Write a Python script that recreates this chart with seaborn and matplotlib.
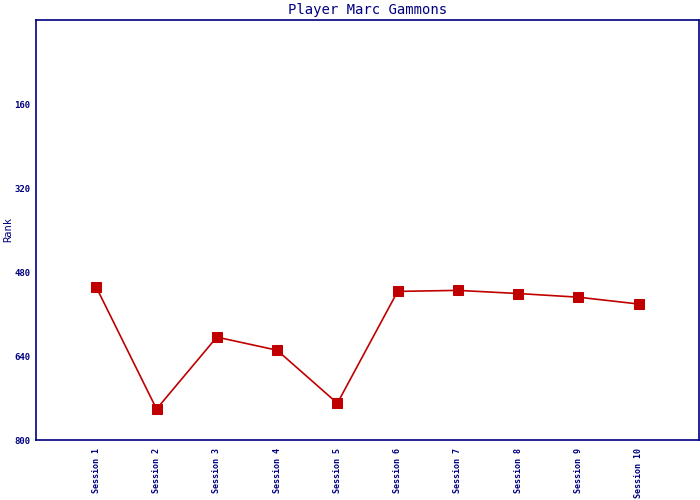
import matplotlib
matplotlib.use("Agg")
import matplotlib.pyplot as plt
import seaborn as sns
import pandas as pd

# data
sessions = ["Session 1", "Session 2", "Session 3", "Session 4", "Session 5",
            "Session 6", "Session 7", "Session 8", "Session 9", "Session 10"]
rank = [509, 741, 604, 629, 730, 517, 515, 521, 528, 541]
y_ticks = [160, 320, 480, 640, 800]

navy = "#000080"
red = "#C00000"

sns.set_style("white")
plt.rcParams["font.family"] = ["DejaVu Sans Mono", "DejaVu Sans"]

df = pd.DataFrame({"session": sessions, "rank": rank})

fig = plt.figure(figsize=(7, 5), dpi=100)
ax = fig.add_axes([36 / 700, 60 / 500, 663 / 700, 420 / 500])

sns.lineplot(data=df, x="session", y="rank", ax=ax, color=red, linewidth=1.2,
             marker="s", markersize=7.5, markeredgecolor=red, sort=False)

ax.set_xlim(-1, len(sessions))
ax.set_ylim(800, 0)
ax.set_yticks(y_ticks)
ax.set_yticklabels([str(v) for v in y_ticks], fontsize=6.5, color=navy, fontweight="bold")
ax.set_xticks(range(len(sessions)))
ax.set_xticklabels(sessions, rotation=90, fontsize=6, color=navy, fontweight="bold")
ax.tick_params(axis="y", direction="in", length=4, width=1.2, color=navy, pad=4)
ax.tick_params(axis="x", length=0, pad=6)

for s in ax.spines.values():
    s.set_color(navy)
    s.set_linewidth(1.2)

ax.set_xlabel("")
ax.set_ylabel("Rank", color=navy, fontsize=7.5, va="center")
ax.yaxis.set_label_coords(-28 / 663, 0.5)
ax.set_title("Player Marc Gammons", color=navy, fontsize=10, pad=4)

fig.savefig("out.png", dpi=100)
